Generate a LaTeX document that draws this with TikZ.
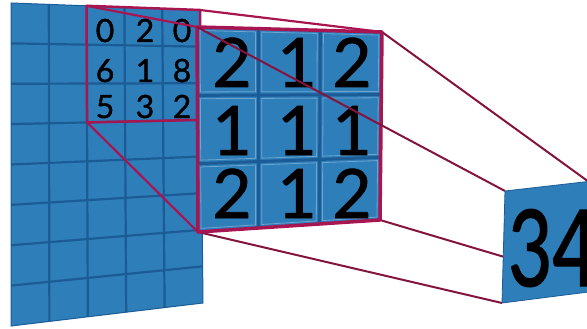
\documentclass[tikz,border=0pt]{standalone}
\usepackage{fontspec}
\setmainfont{Lato}
\newfontfamily\numfont{Lato}[FakeBold=1.3]
\usepackage{graphicx}
\usetikzlibrary{calc}

\definecolor{tile}{RGB}{46,126,186}
\definecolor{groove}{RGB}{28,92,150}
\definecolor{frame}{RGB}{168,22,82}
\definecolor{linkred}{RGB}{132,20,62}

\begin{document}
\begin{tikzpicture}[x=1pt, y=-1pt,
  sheet/.style={fill=tile, draw=groove, line width=1pt},
  gline/.style={draw=groove, line width=2.2pt},
  bevel/.style={draw=tile!70!white, line width=0.8pt},
  window/.style={draw=frame, line width=2.5pt, line join=round},
  filt/.style={draw=frame, line width=3.5pt, line join=round},
  wlink/.style={draw=frame, line width=2.2pt},
  olink/.style={draw=linkred, line width=2pt},
  wdigit/.style={font=\numfont\fontsize{32}{32}\selectfont, anchor=base, inner sep=0pt},
  fdigit/.style={font=\numfont\fontsize{68}{68}\selectfont, anchor=base, inner sep=0pt},
  odigit/.style={font=\numfont\fontsize{106}{106}\selectfont, anchor=base west, inner sep=0pt}
]
  \path[use as bounding box, clip] (0,0) rectangle (587,329);

  % input image
  \coordinate (tl) at (11,3);
  \coordinate (tr) at (200,10);
  \coordinate (br) at (203,303);
  \coordinate (bl) at (11,326);
  \draw[sheet] (tl) -- (tr) -- (br) -- (bl) -- cycle;
  \foreach \k in {1,...,4}
    \draw[gline] ($(tl)!\k/5!(tr)$) -- ($(bl)!\k/5!(br)$);
  \foreach \k in {1,...,7}
    \draw[gline] ($(tl)!\k/8!(bl)$) -- ($(tr)!\k/8!(br)$);

  % 3x3 window on the input
  \coordinate (wtl) at ($(tl)!0.4!(tr)$);
  \coordinate (wtr) at (tr);
  \coordinate (cbl) at ($(bl)!0.4!(br)$);
  \coordinate (wbl) at ($(wtl)!0.375!(cbl)$);
  \coordinate (wbr) at ($(tr)!0.375!(br)$);
  \foreach \v/\x/\y [count=\i] in {0/105/42, 2/145/42, 0/182/42,
                                   6/105/82, 1/145/82, 8/182/82,
                                   5/105/118, 3/145/118, 2/182/118}
    \node[wdigit] (w\i) at (\x,\y) {\v};
  \draw[window] (wtl) -- (wtr) -- (wbr) -- (wbl) -- cycle;

  % filter
  \coordinate (ftl) at (197,27);
  \coordinate (ftr) at (382,32);
  \coordinate (fbr) at (380,220);
  \coordinate (fbl) at (198,232);

  % output
  \coordinate (otl) at (505,191);
  \coordinate (otr) at (610,179);
  \coordinate (obr) at (612,289);
  \coordinate (obl) at (502,303);
  \coordinate (ohit) at (589,182);

  % window to filter, filter to output
  \draw[wlink] (wtl) -- (ftl);
  \draw[wlink] (wtr) -- (ftr);
  \draw[wlink] (wbl) -- (fbl);
  \draw[wlink] (wbr) -- (fbr);
  \draw[olink] (ftr) -- (ohit);
  \draw[olink] (fbr) -- (obr);
  \draw[olink] (fbl) -- (obl);

  \fill[tile] (ftl) -- (ftr) -- (fbr) -- (fbl) -- cycle;
  \foreach \k in {1,2} {
    \draw[gline, line width=3pt] ($(ftl)!\k/3!(ftr)$) -- ($(fbl)!\k/3!(fbr)$);
    \draw[gline, line width=3pt] ($(ftl)!\k/3!(fbl)$) -- ($(ftr)!\k/3!(fbr)$);
  }
  \foreach \i in {0,1,2}
    \foreach \j in {0,1,2} {
      \pgfmathsetmacro\ua{(\i+0.05)/3}
      \pgfmathsetmacro\ub{(\i+0.95)/3}
      \pgfmathsetmacro\va{(\j+0.05)/3}
      \pgfmathsetmacro\vb{(\j+0.95)/3}
      \coordinate (pa) at ($(ftl)!\ua!(ftr)$);
      \coordinate (pb) at ($(fbl)!\ua!(fbr)$);
      \coordinate (qa) at ($(ftl)!\ub!(ftr)$);
      \coordinate (qb) at ($(fbl)!\ub!(fbr)$);
      \draw[bevel] ($(pa)!\va!(pb)$) -- ($(qa)!\va!(qb)$)
        -- ($(qa)!\vb!(qb)$) -- ($(pa)!\vb!(pb)$) -- cycle;
    }
  \foreach \v/\x/\y [count=\i] in {2/232/87, 1/297/87, 2/352/87,
                                   1/232/155, 1/297/155, 1/352/155,
                                   2/232/218, 1/297/218, 2/352/218}
    \node[fdigit] (f\i) at (\x,\y) {\v};
  \draw[filt] (ftl) -- (ftr) -- (fbr) -- (fbl) -- cycle;
  \draw[olink] (ftl) -- (otl);

  % result
  \draw[fill=tile, draw=groove, line width=0.8pt] (otl) -- (otr) -- (obr) -- (obl) -- cycle;
  \node[odigit] (val) at (508,286) {\scalebox{0.72}[1]{34}};
\end{tikzpicture}
\end{document}
